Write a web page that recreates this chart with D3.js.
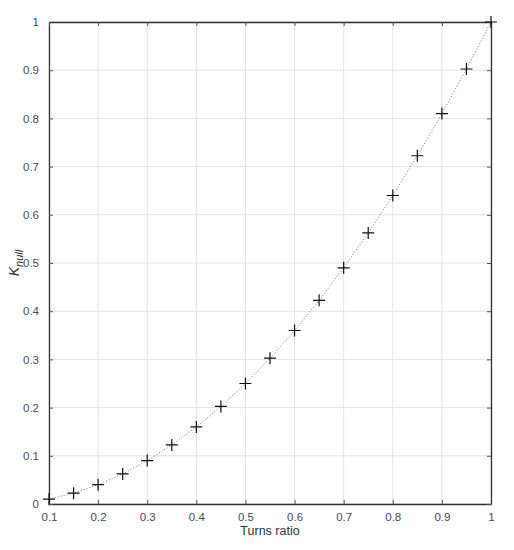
<!DOCTYPE html>
<html>
<head>
<meta charset="utf-8">
<script src="https://cdn.jsdelivr.net/npm/d3@7"></script>
<style>
  body { margin: 0; background: #fff; }
  text { font-family: "Liberation Sans", Arial, sans-serif; }
</style>
</head>
<body>
<svg id="chart"></svg>
<script>
// turns ratio values and the matching K_null
var ratios = [0.1, 0.15, 0.2, 0.25, 0.3, 0.35, 0.4, 0.45, 0.5, 0.55, 0.6, 0.65, 0.7, 0.75, 0.8, 0.85, 0.9, 0.95, 1];
var kNull  = [0.01, 0.0225, 0.04, 0.0625, 0.09, 0.1225, 0.16, 0.2025, 0.25, 0.3025, 0.36, 0.4225, 0.49, 0.5625, 0.64, 0.7225, 0.81, 0.9025, 1];
var xTicks = [0.1, 0.2, 0.3, 0.4, 0.5, 0.6, 0.7, 0.8, 0.9, 1];
var yTicks = [0, 0.1, 0.2, 0.3, 0.4, 0.5, 0.6, 0.7, 0.8, 0.9, 1];

var width = 514, height = 550;
var margin = {top: 22, right: 23, bottom: 46, left: 49};
var w = width - margin.left - margin.right;
var h = height - margin.top - margin.bottom;

var svg = d3.select("#chart").attr("width", width).attr("height", height);
var g = svg.append("g").attr("transform", "translate(" + margin.left + "," + margin.top + ")");

var x = d3.scaleLinear().domain([0.1, 1]).range([0, w]);
var y = d3.scaleLinear().domain([0, 1]).range([h, 0]);

var tickColor = "#3f4f60";

// grid
g.append("g").selectAll("line").data(xTicks).enter().append("line")
  .attr("x1", d => x(d)).attr("x2", d => x(d))
  .attr("y1", 0).attr("y2", h)
  .attr("stroke", "#e3e3e3").attr("stroke-width", 1);
g.append("g").selectAll("line").data(yTicks).enter().append("line")
  .attr("y1", d => y(d)).attr("y2", d => y(d))
  .attr("x1", 0).attr("x2", w)
  .attr("stroke", "#e3e3e3").attr("stroke-width", 1);

// axes with inner ticks, matlab style
var fmt = d => d3.format("")(+d.toFixed(1));
g.append("g").attr("transform", "translate(0," + h + ")")
  .call(d3.axisBottom(x).tickValues(xTicks).tickSizeInner(-4).tickSizeOuter(0).tickPadding(9).tickFormat(fmt));
g.append("g")
  .call(d3.axisLeft(y).tickValues(yTicks).tickSizeInner(-4).tickSizeOuter(0).tickPadding(10).tickFormat(fmt));
g.append("g")
  .call(d3.axisTop(x).tickValues(xTicks).tickSizeInner(-4).tickSizeOuter(0).tickFormat(""));
g.append("g").attr("transform", "translate(" + w + ",0)")
  .call(d3.axisRight(y).tickValues(yTicks).tickSizeInner(-4).tickSizeOuter(0).tickFormat(""));

g.selectAll(".domain").attr("stroke", "#333").attr("stroke-width", 1.3);
g.selectAll(".tick line").attr("stroke", "#555");
g.selectAll(".tick text").attr("fill", tickColor).attr("font-size", 11.5)
  .attr("font-family", "'Liberation Sans', Arial, sans-serif");

// data line
var pts = ratios.map((r, i) => [r, kNull[i]]);
g.append("path")
  .datum(pts)
  .attr("fill", "none")
  .attr("stroke", "#777")
  .attr("stroke-width", 1)
  .attr("stroke-dasharray", "1,2")
  .attr("d", d3.line().x(d => x(d[0])).y(d => y(d[1])));

// plus markers
g.append("g").selectAll("path").data(pts).enter().append("path")
  .attr("transform", d => "translate(" + x(d[0]) + "," + y(d[1]) + ")")
  .attr("d", "M-6,0H6M0,-6V6")
  .attr("stroke", "#111").attr("stroke-width", 1.2).attr("fill", "none");

// labels
svg.append("text")
  .attr("x", margin.left + w / 2).attr("y", 535)
  .attr("text-anchor", "middle").attr("font-size", 12.5).attr("fill", "#333")
  .text("Turns ratio");

var yl = svg.append("text")
  .attr("transform", "translate(19," + (margin.top + h / 2) + ") rotate(-90)")
  .attr("text-anchor", "middle").attr("font-size", 14).attr("fill", "#333")
  .attr("font-style", "italic");
yl.append("tspan").text("K");
yl.append("tspan").attr("font-size", 11).attr("dy", 4).text("null");
</script>
</body>
</html>
